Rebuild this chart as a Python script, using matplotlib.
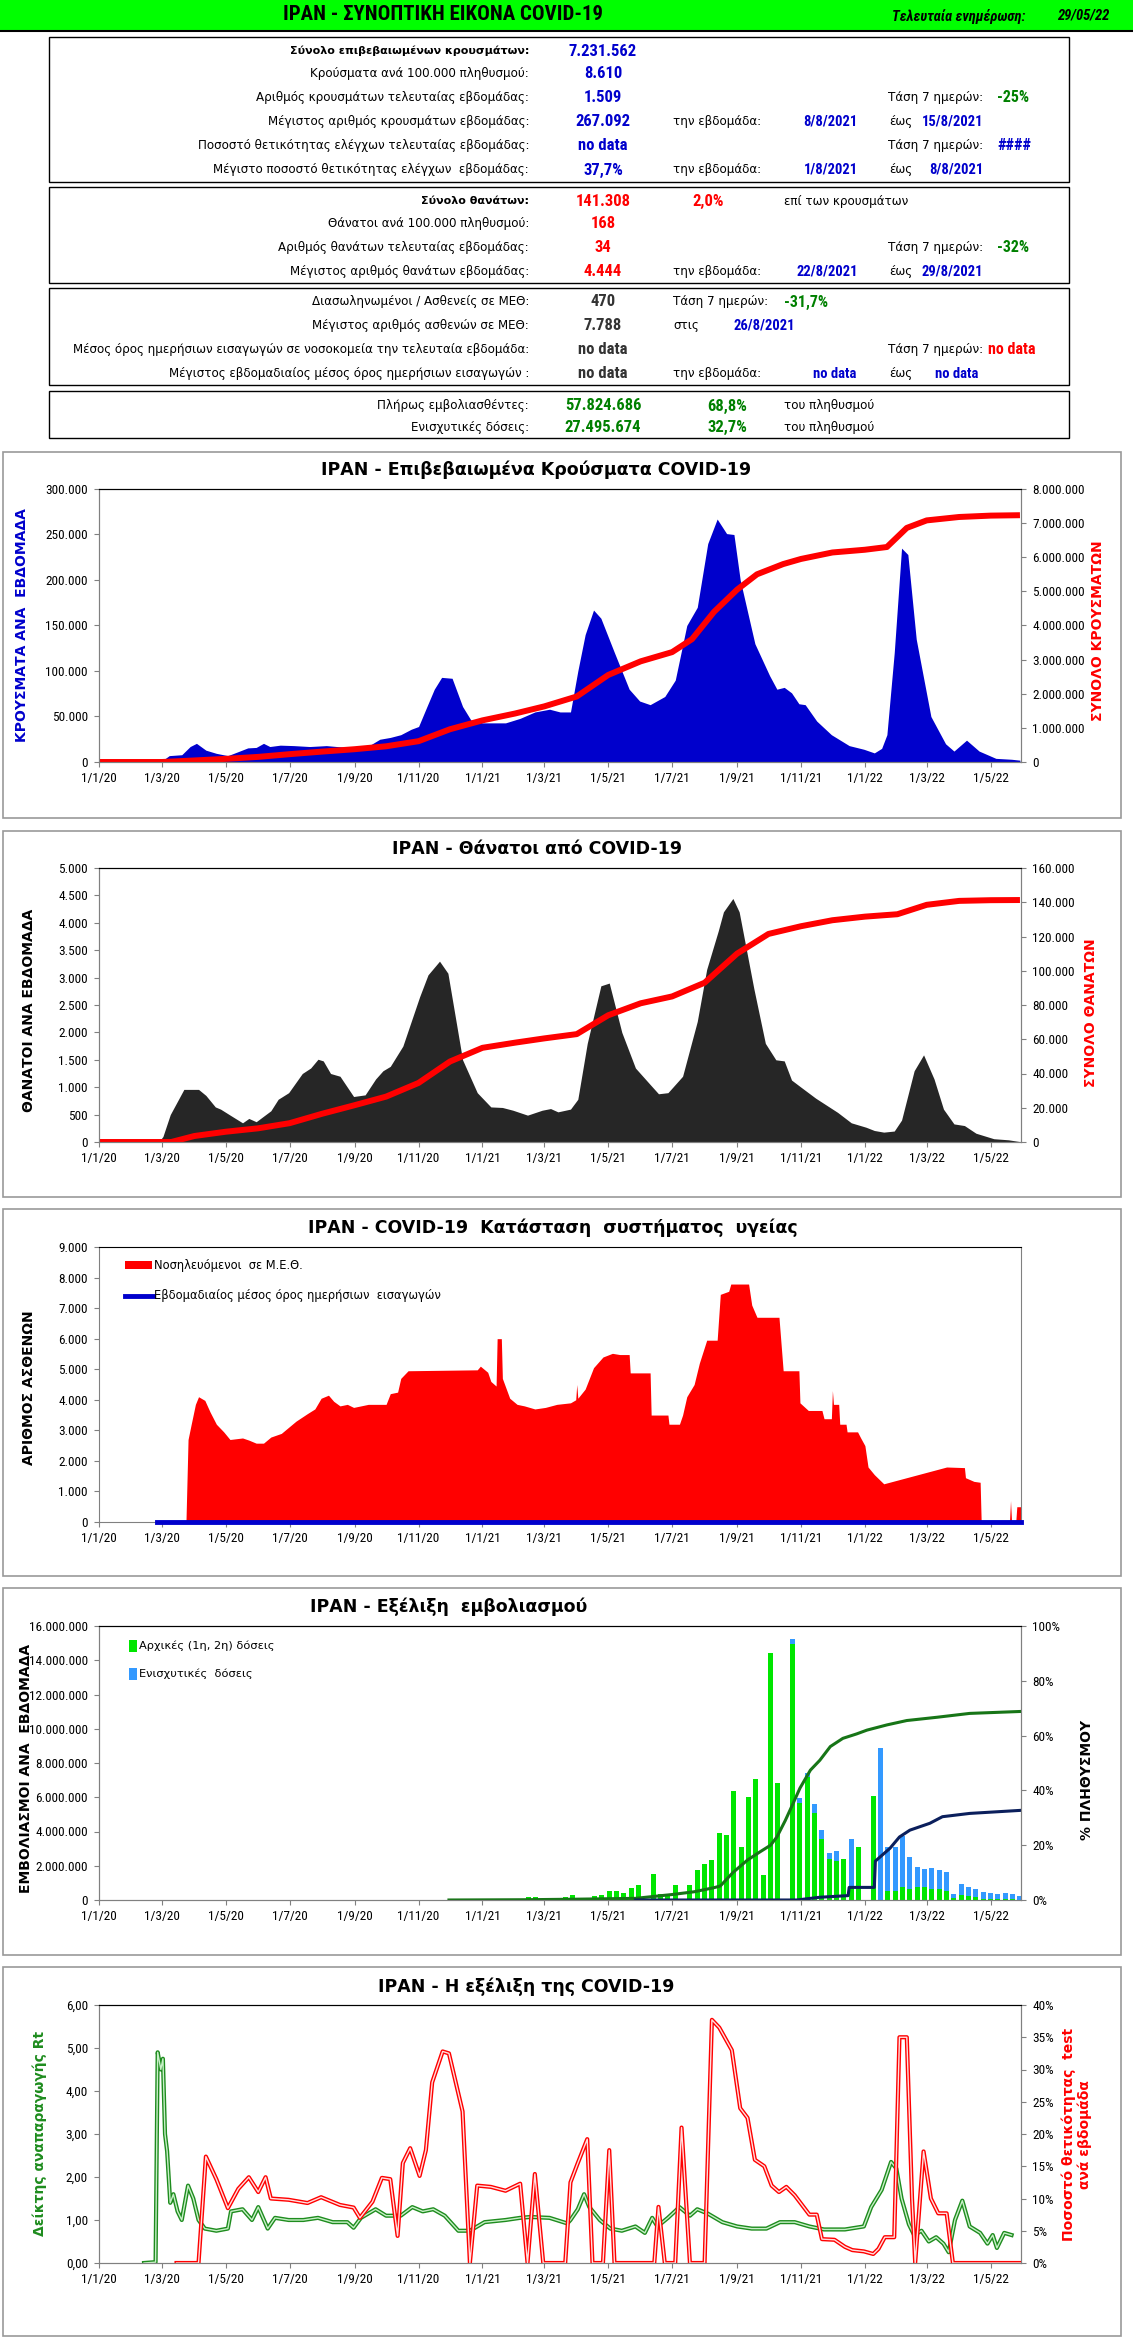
import matplotlib
matplotlib.use("Agg")
import matplotlib.pyplot as plt
import matplotlib.font_manager as fm
from matplotlib.patches import Rectangle
from matplotlib.lines import Line2D
from matplotlib.ticker import FuncFormatter, MultipleLocator
import pandas as pd

# ---------------- data ----------------
case_dates = ["2020-01-01", "2020-02-25", "2020-03-02", "2020-03-08", "2020-03-20", "2020-03-28", "2020-04-03",
              "2020-04-12", "2020-04-22", "2020-05-03", "2020-05-12", "2020-05-22", "2020-05-30", "2020-06-06",
              "2020-06-12", "2020-06-22", "2020-07-05", "2020-07-20", "2020-08-05", "2020-08-20", "2020-09-01",
              "2020-09-12", "2020-09-25", "2020-10-05", "2020-10-15", "2020-10-25", "2020-11-01", "2020-11-09",
              "2020-11-16", "2020-11-23", "2020-12-03", "2020-12-13", "2020-12-21", "2021-01-01", "2021-01-23",
              "2021-02-06", "2021-02-20", "2021-03-06", "2021-03-16", "2021-03-26", "2021-04-02", "2021-04-09",
              "2021-04-17", "2021-04-24", "2021-05-07", "2021-05-21", "2021-05-31", "2021-06-10", "2021-06-24",
              "2021-07-04", "2021-07-15", "2021-07-25", "2021-08-04", "2021-08-13", "2021-08-22", "2021-08-29",
              "2021-09-04", "2021-09-18", "2021-10-02", "2021-10-09", "2021-10-16", "2021-10-23", "2021-10-30",
              "2021-11-05", "2021-11-16", "2021-11-30", "2021-12-17", "2021-12-31", "2022-01-10", "2022-01-17",
              "2022-01-22", "2022-01-29", "2022-02-05", "2022-02-11", "2022-02-19", "2022-03-05", "2022-03-19",
              "2022-03-27", "2022-04-08", "2022-04-20", "2022-05-06", "2022-05-21", "2022-05-29"]
weekly_cases = [0, 0, 2000, 7000, 8000, 17000, 20500, 13000, 9500, 7000, 11000, 15500, 16000, 20500,
                17000, 18500, 18000, 17000, 18000, 16500, 15500, 16000, 25000, 27000, 30000, 36000, 39000,
                61000, 80000, 93000, 92000, 61000, 46000, 43000, 43000, 48000, 55000, 58000, 55000, 55000,
                100000, 140000, 167000, 158000, 120000, 80000, 67000, 63000, 72000, 90000, 150000, 170000,
                240000, 267000, 251000, 250000, 200000, 130000, 95000, 80000, 82000, 76000, 64000, 63000,
                45000, 30000, 18000, 14000, 10000, 15000, 30000, 120000, 235000, 228000, 135000, 50000,
                20000, 12000, 24000, 12000, 4000, 3000, 2000]

cum_case_dates = ["2020-01-01", "2020-03-01", "2020-04-01", "2020-05-01", "2020-06-01", "2020-07-01", "2020-08-01",
                  "2020-09-01", "2020-10-01", "2020-11-01", "2020-12-01", "2021-01-01", "2021-02-01", "2021-03-01",
                  "2021-04-01", "2021-05-01", "2021-06-01", "2021-07-01", "2021-07-20", "2021-08-10", "2021-09-01",
                  "2021-09-20", "2021-10-15", "2021-11-01", "2021-12-01", "2022-01-01", "2022-01-22", "2022-02-10",
                  "2022-03-01", "2022-04-01", "2022-05-01", "2022-05-29"]
total_cases = [0, 0, 45000, 92000, 150000, 230000, 305000, 375000, 460000, 610000, 960000, 1220000, 1420000,
               1630000, 1920000, 2550000, 2950000, 3220000, 3600000, 4400000, 5050000, 5500000, 5800000,
               5950000, 6140000, 6220000, 6300000, 6860000, 7080000, 7180000, 7220000, 7232000]

death_dates = ["2020-01-01", "2020-02-27", "2020-03-02", "2020-03-09", "2020-03-22", "2020-04-05", "2020-04-12",
               "2020-04-21", "2020-04-26", "2020-05-06", "2020-05-17", "2020-05-23", "2020-05-30", "2020-06-13",
               "2020-06-20", "2020-06-30", "2020-07-13", "2020-07-21", "2020-07-28", "2020-08-02", "2020-08-09",
               "2020-08-18", "2020-08-31", "2020-09-11", "2020-09-21", "2020-09-28", "2020-10-05", "2020-10-17",
               "2020-11-02", "2020-11-10", "2020-11-21", "2020-11-29", "2020-12-13", "2020-12-27", "2021-01-09",
               "2021-01-20", "2021-01-30", "2021-02-13", "2021-02-27", "2021-03-07", "2021-03-14", "2021-03-26",
               "2021-04-02", "2021-04-11", "2021-04-24", "2021-05-02", "2021-05-14", "2021-05-27", "2021-06-10",
               "2021-06-18", "2021-06-27", "2021-07-11", "2021-07-25", "2021-08-03", "2021-08-14", "2021-08-19",
               "2021-08-28", "2021-09-03", "2021-09-17", "2021-09-28", "2021-10-08", "2021-10-16", "2021-10-23",
               "2021-11-01", "2021-11-15", "2021-12-06", "2021-12-19", "2022-01-02", "2022-01-10", "2022-01-19",
               "2022-01-29", "2022-02-05", "2022-02-17", "2022-02-26", "2022-03-08", "2022-03-17", "2022-03-27",
               "2022-04-06", "2022-04-17", "2022-05-04", "2022-05-18", "2022-05-28"]
weekly_deaths = [0, 0, 100, 500, 960, 960, 850, 640, 600, 480, 350, 430, 370, 570, 780, 900, 1250, 1350, 1510,
                 1480, 1250, 1200, 830, 860, 1150, 1300, 1380, 1750, 2650, 3050, 3300, 3080, 1500, 900, 640, 630,
                 580, 490, 580, 610, 550, 600, 780, 1800, 2850, 2900, 2000, 1350, 1050, 880, 900, 1200, 2200,
                 3150, 3850, 4200, 4444, 4200, 2800, 1800, 1500, 1480, 1130, 1000, 800, 540, 350, 270, 210, 180,
                 200, 400, 1300, 1590, 1150, 600, 330, 300, 160, 60, 40, 10]

cum_death_dates = ["2020-01-01", "2020-03-10", "2020-04-01", "2020-05-01", "2020-06-01", "2020-07-01",
                   "2020-08-01", "2020-09-01", "2020-10-01", "2020-11-01", "2020-12-01", "2021-01-01",
                   "2021-02-01", "2021-03-01", "2021-04-01", "2021-05-01", "2021-06-01", "2021-07-01",
                   "2021-08-01", "2021-09-01", "2021-10-01", "2021-11-01", "2021-12-01", "2022-01-01",
                   "2022-02-01", "2022-03-01", "2022-04-01", "2022-05-01", "2022-05-29"]
total_deaths = [0, 0, 3500, 6000, 8000, 11000, 16500, 21500, 26500, 34500, 47000, 55000, 58000, 60500, 63000,
                74000, 81000, 85000, 93000, 110000, 121500, 126000, 129500, 131600, 133000, 138500, 140800,
                141200, 141300]

icu_dates = ["2020-03-24", "2020-03-26", "2020-03-29", "2020-04-02", "2020-04-05", "2020-04-11", "2020-04-16",
             "2020-04-22", "2020-04-29", "2020-05-05", "2020-05-17", "2020-05-23", "2020-05-30", "2020-06-06",
             "2020-06-13", "2020-06-23", "2020-06-30", "2020-07-07", "2020-07-18", "2020-07-25", "2020-07-31",
             "2020-08-07", "2020-08-12", "2020-08-18", "2020-08-25", "2020-08-31", "2020-09-14", "2020-10-01",
             "2020-10-05", "2020-10-12", "2020-10-15", "2020-10-22", "2020-12-27", "2020-12-30", "2021-01-06",
             "2021-01-09", "2021-01-14", "2021-01-15", "2021-01-19", "2021-01-20", "2021-01-27", "2021-02-03",
             "2021-02-10", "2021-02-20", "2021-03-02", "2021-03-13", "2021-03-26", "2021-03-31", "2021-04-01",
             "2021-04-02", "2021-04-09", "2021-04-17", "2021-04-26", "2021-05-05", "2021-05-12", "2021-05-21",
             "2021-05-22", "2021-06-10", "2021-06-11", "2021-06-27", "2021-06-28", "2021-07-08", "2021-07-11",
             "2021-07-15", "2021-07-22", "2021-07-27", "2021-08-03", "2021-08-13", "2021-08-16", "2021-08-24",
             "2021-08-26", "2021-09-12", "2021-09-15", "2021-09-20", "2021-10-11", "2021-10-15", "2021-10-30",
             "2021-10-31", "2021-11-08", "2021-11-21", "2021-11-23", "2021-11-30", "2021-12-01", "2021-12-02",
             "2021-12-07", "2021-12-08", "2021-12-14", "2021-12-15", "2021-12-25", "2021-12-28", "2022-01-01",
             "2022-01-04", "2022-01-10", "2022-01-16", "2022-01-19", "2022-03-20", "2022-04-06", "2022-04-07",
             "2022-04-15", "2022-04-21", "2022-04-22", "2022-05-19", "2022-05-20", "2022-05-21", "2022-05-25",
             "2022-05-26", "2022-05-30"]
icu_patients = [0, 2700, 3200, 3850, 4100, 3980, 3600, 3200, 2950, 2700, 2750, 2680, 2580, 2580, 2780, 2900,
                3100, 3300, 3550, 3700, 4050, 4150, 3950, 3800, 3850, 3750, 3850, 3850, 4200, 4250, 4700, 4950,
                4980, 5100, 4900, 4600, 4450, 6000, 6000, 4700, 4050, 3850, 3800, 3700, 3750, 3850, 3900, 4000,
                4500, 4050, 4350, 5050, 5400, 5520, 5480, 5480, 4880, 4880, 3500, 3500, 3200, 3200, 3500, 4100,
                4500, 5200, 5950, 5950, 7450, 7550, 7788, 7788, 7100, 6700, 6700, 4950, 4950, 3900, 3650, 3650,
                3380, 3380, 4300, 3850, 3850, 3200, 3200, 2950, 2950, 2750, 2500, 1800, 1550, 1350, 1250, 1800,
                1780, 1450, 1330, 1300, 0, 0, 700, 0, 0, 500, 500]
admission_dates = ["2020-02-25", "2022-05-30"]
admissions = [0, 0]

vacc_week_start = "2021-02-14"
vacc_primary = [0.15, 0.15, 0, 0, 0, 0.2, 0.28, 0, 0, 0.25, 0.3, 0.5, 0.5, 0.4, 0.7, 0.9, 0, 1.5, 0.35, 0.3,
                0.85, 0, 0.9, 1.75, 2.1, 2.35, 3.9, 3.8, 6.36, 3.1, 6.03, 7.06, 1.46, 14.4, 6.83, 0, 14.94,
                5.68, 7.2, 5.1, 3.54, 2.37, 2.3, 2.37, 0.82, 3.09, 0, 6.07, 0, 0.53, 0.53, 0.74, 0.64, 0.74,
                0.74, 0.64, 0.64, 0.5, 0.1, 0.29, 0.25, 0.16, 0.08, 0.06, 0.03, 0.03, 0.03, 0.02]
vacc_booster = [0] * 36 + [0.29, 0.25, 0.19, 0.5, 0.55, 0.39, 0.58, 0, 2.74, 0, 0, 0, 8.87, 2.54, 2.57, 3.01,
                           1.87, 1.17, 1.07, 1.23, 1.11, 1.13, 0.27, 0.64, 0.51, 0.5, 0.39, 0.35, 0.34, 0.38,
                           0.32, 0.23]

full_vacc_dates = ["2020-11-30", "2021-02-10", "2021-04-01", "2021-05-27", "2021-07-01", "2021-07-22",
                   "2021-08-10", "2021-08-16", "2021-08-28", "2021-09-11", "2021-09-23", "2021-10-03",
                   "2021-10-09", "2021-10-17", "2021-10-23", "2021-10-31", "2021-11-10", "2021-11-19",
                   "2021-11-29", "2021-12-11", "2021-12-24", "2022-01-03", "2022-01-22", "2022-02-10",
                   "2022-03-11", "2022-04-11", "2022-05-29"]
full_vacc_pct = [0, 0.1, 0.3, 0.6, 2.0, 3.0, 4.5, 5.1, 10, 14.6, 17.6, 20, 23, 29, 34, 40.8, 47.4, 51, 56, 59,
                 60.6, 62, 63.9, 65.5, 66.7, 68.1, 68.8]
booster_dates = ["2021-05-27", "2021-10-28", "2021-11-19", "2021-12-16", "2021-12-17", "2022-01-10",
                 "2022-01-11", "2022-01-25", "2022-02-03", "2022-02-13", "2022-03-04", "2022-03-16",
                 "2022-04-11", "2022-05-29"]
booster_pct = [0, 0, 1.0, 1.6, 4.6, 4.6, 14.2, 18.9, 23, 25.5, 28, 30.4, 31.6, 32.7]

rt_dates = ["2020-02-13", "2020-02-24", "2020-02-26", "2020-02-29", "2020-03-02", "2020-03-04", "2020-03-06",
            "2020-03-09", "2020-03-12", "2020-03-16", "2020-03-20", "2020-03-26", "2020-03-31", "2020-04-05",
            "2020-04-11", "2020-04-22", "2020-05-03", "2020-05-06", "2020-05-17", "2020-05-26", "2020-06-01",
            "2020-06-10", "2020-06-17", "2020-06-30", "2020-07-14", "2020-07-28", "2020-08-11", "2020-08-25",
            "2020-08-31", "2020-09-07", "2020-09-21", "2020-10-01", "2020-10-15", "2020-10-26", "2020-11-05",
            "2020-11-15", "2020-11-26", "2020-12-09", "2020-12-20", "2021-01-03", "2021-01-23", "2021-02-06",
            "2021-02-16", "2021-03-06", "2021-03-23", "2021-03-26", "2021-04-02", "2021-04-08", "2021-04-13",
            "2021-04-23", "2021-05-03", "2021-05-14", "2021-05-27", "2021-06-05", "2021-06-12", "2021-06-17",
            "2021-06-27", "2021-07-08", "2021-07-18", "2021-07-25", "2021-08-04", "2021-08-18", "2021-09-01",
            "2021-09-15", "2021-09-29", "2021-10-12", "2021-10-26", "2021-11-09", "2021-11-23", "2021-12-13",
            "2021-12-31", "2022-01-07", "2022-01-17", "2022-01-26", "2022-01-31", "2022-02-05", "2022-02-12",
            "2022-02-17", "2022-02-24", "2022-03-03", "2022-03-10", "2022-03-17", "2022-03-22", "2022-03-28",
            "2022-04-04", "2022-04-11", "2022-04-21", "2022-04-28", "2022-05-03", "2022-05-07", "2022-05-14",
            "2022-05-21"]
rt_values = [0.0, 0.02, 4.9, 4.5, 4.75, 3.0, 2.6, 1.4, 1.6, 1.2, 1.0, 1.8, 1.5, 1.0, 0.8, 0.75, 0.8, 1.2, 1.25,
             1.0, 1.3, 0.8, 1.05, 1.0, 1.0, 1.05, 0.95, 0.95, 0.82, 1.05, 1.25, 1.1, 1.1, 1.3, 1.2, 1.25, 1.1,
             0.75, 0.75, 0.95, 1.0, 1.05, 1.07, 1.05, 0.92, 1.0, 1.25, 1.6, 1.3, 1.0, 0.8, 0.75, 0.85, 0.7,
             1.05, 0.85, 1.05, 1.3, 1.1, 1.25, 1.15, 0.95, 0.85, 0.8, 0.8, 0.95, 0.95, 0.85, 0.78, 0.78, 0.85,
             1.3, 1.7, 2.35, 2.2, 1.5, 0.9, 0.65, 0.75, 0.5, 0.6, 0.45, 0.25, 1.0, 1.45, 0.85, 0.7, 0.45, 0.65,
             0.35, 0.7, 0.65]

pos_dates = ["2020-03-15", "2020-04-05", "2020-04-12", "2020-04-22", "2020-05-03", "2020-05-13", "2020-05-23",
             "2020-06-01", "2020-06-08", "2020-06-13", "2020-06-30", "2020-07-18", "2020-07-31", "2020-08-18",
             "2020-08-31", "2020-09-06", "2020-09-18", "2020-09-27", "2020-10-05", "2020-10-12", "2020-10-17",
             "2020-10-24", "2020-11-02", "2020-11-08", "2020-11-14", "2020-11-24", "2020-11-30", "2020-12-13",
             "2020-12-20", "2020-12-27", "2021-01-09", "2021-01-23", "2021-02-06", "2021-02-13", "2021-02-20",
             "2021-02-28", "2021-03-21", "2021-03-26", "2021-04-02", "2021-04-11", "2021-04-16", "2021-04-26",
             "2021-05-02", "2021-05-07", "2021-06-14", "2021-06-18", "2021-06-24", "2021-07-04", "2021-07-10",
             "2021-07-18", "2021-08-01", "2021-08-08", "2021-08-15", "2021-08-27", "2021-09-04", "2021-09-11",
             "2021-09-18", "2021-09-27", "2021-10-04", "2021-10-11", "2021-10-18", "2021-10-26", "2021-11-02",
             "2021-11-09", "2021-11-16", "2021-11-21", "2021-12-03", "2021-12-13", "2021-12-20", "2021-12-31",
             "2022-01-09", "2022-01-14", "2022-01-20", "2022-01-29", "2022-02-03", "2022-02-10", "2022-02-15",
             "2022-02-18", "2022-02-26", "2022-03-05", "2022-03-12", "2022-03-20", "2022-03-26", "2022-05-30"]
positivity = [0, 0, 16.5, 13, 8.5, 11.5, 13.3, 11, 13.3, 10, 9.8, 9.3, 10.2, 9.0, 8.6, 7.0, 9.5, 13.2, 13.0,
              4.2, 15.5, 17.8, 13.5, 17.5, 28, 32.8, 32.5, 23.5, 0, 12, 11.8, 11.2, 12.3, 0, 13.8, 0, 0, 12.5,
              15.5, 19.2, 0, 0, 17.5, 0, 0, 8.7, 0, 0, 21, 0, 0, 37.7, 36.5, 33, 24, 22.5, 16, 15, 12, 11, 11.8,
              10.5, 9, 7.5, 7.5, 3.7, 3.6, 2.5, 2.0, 1.8, 1.4, 2.2, 4.0, 4.0, 35, 35, 10, 0, 17.3, 10, 7.7, 7.7,
              0, 0]

# ---------------- fonts ----------------
SANS = ["DejaVu Sans"]
_avail = {f.name for f in fm.fontManager.ttflist}
_narrow = [n for n in ["Liberation Sans Narrow", "Roboto Condensed", "Open Sans Condensed",
                       "DejaVu Sans Condensed"] if n in _avail]
NARROW = _narrow[:1] + ["Liberation Sans", "DejaVu Sans"]
NS = 1.0 if _narrow else 0.85  # shrink numbers a little when no condensed face exists
plt.rcParams["font.family"] = NARROW

# ---------------- figure helpers ----------------
W, H = 1133, 2345
fig = plt.figure(figsize=(W / 100, H / 100), dpi=100)

BLUE = "#0000CC"
GREEN = "#008000"
RED = "#FF0000"


def put(x, y, s, size=8.6, ha="left", color="black", weight="normal", family=None, style="normal", rotation=0):
    fig.text(x / W, 1 - y / H, s, ha=ha, va="center", fontsize=size, color=color, fontweight=weight,
             family=family or SANS, style=style, rotation=rotation)


def rect(x0, y0, x1, y1, ec="black", fc="none", lw=1.0):
    fig.patches.append(Rectangle((x0 / W, 1 - y1 / H), (x1 - x0) / W, (y1 - y0) / H, transform=fig.transFigure,
                                 fill=fc != "none", facecolor=fc if fc != "none" else "white", edgecolor=ec, lw=lw))


def hline(x0, x1, y, color, lw):
    fig.lines.append(Line2D([x0 / W, x1 / W], [1 - y / H, 1 - y / H], transform=fig.transFigure, color=color, lw=lw))


def dotted(v, p):
    return f"{v:,.0f}".replace(",", ".")


X0, X1 = pd.Timestamp("2020-01-01"), pd.Timestamp("2022-05-30")
tick_dates = pd.date_range("2020-01-01", "2022-05-01", freq="2MS")
tick_labels = [f"{d.day}/{d.month}/{d.year % 100}" for d in tick_dates]
TICK = 9.5 * NS


def chart_axes(top, bottom, ymax, ystep, fmt):
    ax = fig.add_axes([99 / W, 1 - bottom / H, (1021 - 99) / W, (bottom - top) / H])
    ax.set_xlim(X0, X1)
    ax.set_ylim(0, ymax)
    ax.yaxis.set_major_locator(MultipleLocator(ystep))
    ax.yaxis.set_major_formatter(FuncFormatter(fmt))
    ax.set_xticks(tick_dates)
    ax.set_xticklabels(tick_labels)
    ax.tick_params(direction="out", length=3.5, width=0.8, color="#808080", labelsize=TICK, pad=4.5)
    ax.tick_params(axis="x", pad=4)
    for side in ["left", "right", "bottom"]:
        ax.spines[side].set_color("#808080")
    ax.spines["top"].set_color("black")
    ax.patch.set_alpha(0)
    return ax


def right_axes(ax, ymax, ystep, fmt):
    ax2 = ax.twinx()
    ax2.set_ylim(0, ymax)
    ax2.yaxis.set_major_locator(MultipleLocator(ystep))
    ax2.yaxis.set_major_formatter(FuncFormatter(fmt))
    ax2.tick_params(direction="out", length=3.5, width=0.8, color="#808080", labelsize=TICK, pad=4.5)
    for side in ["left", "right", "bottom"]:
        ax2.spines[side].set_color("#808080")
    return ax2


# ---------------- header ----------------
rect(0, 0, W, 30, ec="none", fc="#00FF00")
hline(0, W, 30.5, "black", 1.5)
put(443, 15, "ΙΡΑΝ - ΣΥΝΟΠΤΙΚΗ ΕΙΚΟΝΑ COVID-19", size=15 * NS, ha="center", weight="bold", family=NARROW)
put(1026, 16, "Τελευταία ενημέρωση:", size=10.5 * NS, ha="right", weight="bold", style="italic", family=NARROW)
put(1109, 16, "29/05/22", size=10.5 * NS, ha="right", weight="bold", style="italic", family=NARROW)

rect(49, 37, 1069, 182)
rect(49, 187, 1069, 283)
rect(49, 288, 1069, 385)
rect(49, 391, 1069, 438)

case_labels = ["Σύνολο επιβεβαιωμένων κρουσμάτων:", "Κρούσματα ανά 100.000 πληθυσμού:",
               "Αριθμός κρουσμάτων τελευταίας εβδομάδας:", "Μέγιστος αριθμός κρουσμάτων εβδομάδας:",
               "Ποσοστό θετικότητας ελέγχων τελευταίας εβδομάδας:",
               "Μέγιστο ποσοστό θετικότητας ελέγχων  εβδομάδας:"]
case_values = ["7.231.562", "8.610", "1.509", "267.092", "no data", "37,7%"]
death_labels = ["Σύνολο θανάτων:", "Θάνατοι ανά 100.000 πληθυσμού:", "Αριθμός θανάτων τελευταίας εβδομάδας:",
                "Μέγιστος αριθμός θανάτων εβδομάδας:"]
death_values = ["141.308", "168", "34", "4.444"]
icu_labels = ["Διασωληνωμένοι / Ασθενείς σε ΜΕΘ:", "Μέγιστος αριθμός ασθενών σε ΜΕΘ:",
              "Μέσος όρος ημερήσιων εισαγωγών σε νοσοκομεία την τελευταία εβδομάδα:",
              "Μέγιστος εβδομαδιαίος μέσος όρος ημερήσιων εισαγωγών :"]
icu_values = ["470", "7.788", "no data", "no data"]
vacc_labels = ["Πλήρως εμβολιασθέντες:", "Ενισχυτικές δόσεις:"]
vacc_values = ["57.824.686", "27.495.674"]
vacc_shares = ["68,8%", "32,7%"]

VAL = 12 * (1.0 if _narrow else 0.95)
groups = [(case_labels, case_values, [51, 74, 98, 122, 146, 170], BLUE, True),
          (death_labels, death_values, [201, 224, 248, 272], RED, True),
          (icu_labels, icu_values, [302, 326, 350, 374], "#333333", False),
          (vacc_labels, vacc_values, [406, 427], GREEN, False)]
for labels, values, rows, col, bold_first in groups:
    for i, (lab, val, y) in enumerate(zip(labels, values, rows)):
        if i == 0 and bold_first:
            put(529, y, lab, size=8.0, ha="right", weight="bold")
        else:
            put(529, y, lab, ha="right")
        put(603, y, val, size=VAL, ha="center", weight="bold", color=col, family=NARROW)

DATE = dict(size=10.5 * NS, weight="bold", color=BLUE, family=NARROW)
TREND = 11.5 * NS
# cases extras
put(983, 98, "Τάση 7 ημερών:", ha="right")
put(997, 98, "-25%", size=TREND, weight="bold", color=GREEN, family=NARROW)
put(673, 122, "την εβδομάδα:")
put(858, 122, "8/8/2021", ha="right", **DATE)
put(889, 122, "έως")
put(983, 122, "15/8/2021", ha="right", **DATE)
put(983, 146, "Τάση 7 ημερών:", ha="right")
put(997, 146, "####", size=TREND, weight="bold", color=BLUE, family=NARROW)
put(673, 170, "την εβδομάδα:")
put(858, 170, "1/8/2021", ha="right", **DATE)
put(889, 170, "έως")
put(983, 170, "8/8/2021", ha="right", **DATE)
# deaths extras
put(708, 201, "2,0%", size=VAL, ha="center", weight="bold", color=RED, family=NARROW)
put(784, 201, "επί των κρουσμάτων")
put(983, 248, "Τάση 7 ημερών:", ha="right")
put(997, 248, "-32%", size=TREND, weight="bold", color=GREEN, family=NARROW)
put(673, 272, "την εβδομάδα:")
put(858, 272, "22/8/2021", ha="right", **DATE)
put(889, 272, "έως")
put(983, 272, "29/8/2021", ha="right", **DATE)
# icu extras
put(673, 302, "Τάση 7 ημερών:")
put(784, 302, "-31,7%", size=TREND, weight="bold", color=GREEN, family=NARROW)
put(673, 326, "στις")
put(733, 326, "26/8/2021", **DATE)
put(983, 350, "Τάση 7 ημερών:", ha="right")
put(988, 350, "no data", size=TREND, weight="bold", color=RED, family=NARROW)
put(673, 374, "την εβδομάδα:")
put(835, 374, "no data", ha="center", **DATE)
put(889, 374, "έως")
put(957, 374, "no data", ha="center", **DATE)
# vaccination extras
for y, share in zip([406, 427], vacc_shares):
    put(727, y, share, size=VAL, ha="center", weight="bold", color=GREEN, family=NARROW)
    put(784, y, "του πληθυσμού")

# ---------------- chart frames ----------------
for top, bottom in [(452, 818), (831, 1197), (1209, 1576), (1588, 1955), (1967, 2336)]:
    rect(3, top, 1121, bottom, ec="#999999", lw=1.2)

TITLE = 12.5

# ---------------- chart 1: cases ----------------
ax = chart_axes(489, 762, 300000, 50000, dotted)
ax.fill_between(pd.to_datetime(case_dates), weekly_cases, color=BLUE, lw=0)
ax2 = right_axes(ax, 8000000, 1000000, dotted)
ax2.plot(pd.to_datetime(cum_case_dates), total_cases, color=RED, lw=4.3, solid_capstyle="butt")
put(536, 470, "ΙΡΑΝ - Επιβεβαιωμένα Κρούσματα COVID-19", size=TITLE, ha="center", weight="bold")
put(22, 625, "ΚΡΟΥΣΜΑΤΑ ΑΝΑ  ΕΒΔΟΜΑΔΑ", size=10, ha="center", weight="bold", color=BLUE, rotation=90)
put(1098, 631, "ΣΥΝΟΛΟ ΚΡΟΥΣΜΑΤΩΝ", size=10, ha="center", weight="bold", color=RED, rotation=90)

# ---------------- chart 2: deaths ----------------
ax = chart_axes(868, 1142, 5000, 500, dotted)
ax.fill_between(pd.to_datetime(death_dates), weekly_deaths, color="#262626", lw=0)
ax2 = right_axes(ax, 160000, 20000, dotted)
ax2.plot(pd.to_datetime(cum_death_dates), total_deaths, color=RED, lw=4.3, solid_capstyle="butt")
put(537, 849, "ΙΡΑΝ - Θάνατοι από COVID-19", size=TITLE, ha="center", weight="bold")
put(29, 1010, "ΘΑΝΑΤΟΙ ΑΝΑ ΕΒΔΟΜΑΔΑ", size=10, ha="center", weight="bold", rotation=90)
put(1091, 1013, "ΣΥΝΟΛΟ ΘΑΝΑΤΩΝ", size=10, ha="center", weight="bold", color=RED, rotation=90)

# ---------------- chart 3: ICU ----------------
ax = chart_axes(1247, 1522, 9000, 1000, dotted)
ax.fill_between(pd.to_datetime(icu_dates), icu_patients, color=RED, lw=0)
ax.plot(pd.to_datetime(admission_dates), admissions, color=BLUE, lw=3.5, clip_on=False, zorder=3)
ax.tick_params(axis="y", right=False)
put(553, 1228, "ΙΡΑΝ - COVID-19  Κατάσταση  συστήματος  υγείας", size=TITLE, ha="center", weight="bold")
put(29, 1388, "ΑΡΙΘΜΟΣ ΑΣΘΕΝΩΝ", size=10, ha="center", weight="bold", rotation=90)
rect(125, 1261, 152, 1269, ec="none", fc=RED)
put(154, 1265, "Νοσηλευόμενοι  σε Μ.Ε.Θ.", size=8.3)
hline(125, 153, 1296, BLUE, 3.5)
put(154, 1296, "Εβδομαδιαίος μέσος όρος ημερήσιων  εισαγωγών", size=8.3)

# ---------------- chart 4: vaccination ----------------
ax = chart_axes(1626, 1900, 16000000, 2000000, dotted)
if not _narrow:
    ax.tick_params(axis="y", labelsize=8.0)
week_dates = pd.date_range(vacc_week_start, periods=len(vacc_primary), freq="7D")
prim = [v * 1e6 for v in vacc_primary]
boost = [v * 1e6 for v in vacc_booster]
ax.bar(week_dates, prim, width=4.8, color="#00E600", lw=0)
ax.bar(week_dates, boost, bottom=prim, width=4.8, color="#3399FF", lw=0)
ax2 = right_axes(ax, 100, 20, lambda v, p: f"{v:.0f}%")
ax2.plot(pd.to_datetime(full_vacc_dates), full_vacc_pct, color="#177517", lw=2.2)
ax2.plot(pd.to_datetime(booster_dates), booster_pct, color="#0B1F5C", lw=2.2)
put(449, 1607, "ΙΡΑΝ - Εξέλιξη  εμβολιασμού", size=TITLE, ha="center", weight="bold")
put(26, 1768, "ΕΜΒΟΛΙΑΣΜΟΙ ΑΝΑ  ΕΒΔΟΜΑΔΑ", size=10, ha="center", weight="bold", rotation=90)
put(1087, 1780, "% ΠΛΗΘΥΣΜΟΥ", size=10, ha="center", weight="bold", rotation=90)
rect(129, 1640, 137, 1652, ec="none", fc="#00E600")
put(139, 1646, "Αρχικές (1η, 2η) δόσεις", size=8.2)
rect(129, 1668, 137, 1680, ec="none", fc="#3399FF")
put(139, 1674, "Ενισχυτικές  δόσεις", size=8.2)

# ---------------- chart 5: Rt and positivity ----------------
ax = chart_axes(2005, 2263, 6, 1, lambda v, p: f"{v:.2f}".replace(".", ","))
ax.plot(pd.to_datetime(rt_dates), rt_values, color="#1E8C1E", lw=3.0, zorder=3)
ax.plot(pd.to_datetime(rt_dates), rt_values, color="#C8F0C8", lw=1.0, zorder=3)
ax2 = right_axes(ax, 40, 5, lambda v, p: f"{v:.0f}%")
ax2.plot(pd.to_datetime(pos_dates), positivity, color=RED, lw=3.0)
ax2.plot(pd.to_datetime(pos_dates), positivity, color="#FFE0E0", lw=1.0)
put(526, 1987, "ΙΡΑΝ - Η εξέλιξη της COVID-19", size=TITLE, ha="center", weight="bold")
put(40, 2133, "Δείκτης αναπαραγωγής Rt", size=10, ha="center", weight="bold", color="#1E8C1E", rotation=90)
put(1069, 2134, "Ποσοστό θετικότητας  test", size=10, ha="center", weight="bold", color=RED, rotation=90)
put(1085, 2135, "ανά εβδομάδα", size=10, ha="center", weight="bold", color=RED, rotation=90)

fig.savefig("out.png", dpi=100)
